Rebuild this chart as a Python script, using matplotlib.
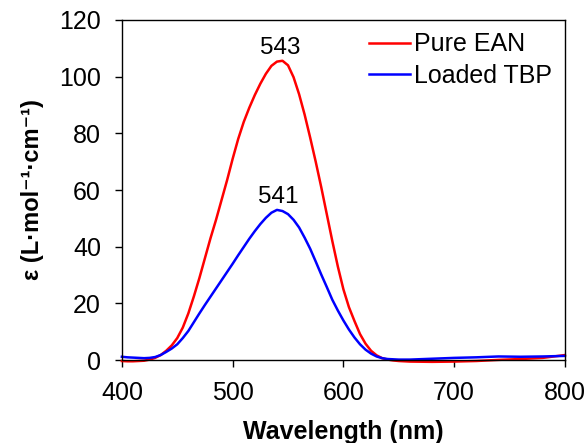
import matplotlib
matplotlib.use('Agg')
import matplotlib.pyplot as plt

plt.rcParams['font.family'] = ['Liberation Sans', 'DejaVu Sans']

# wavelength grid (nm)
wavelength = [400, 405, 410, 415, 420, 425, 430, 435, 440, 445, 450, 455, 460,
              465, 470, 475, 480, 485, 490, 495, 500, 505, 510, 515, 520, 525,
              530, 535, 540, 545, 550, 555, 560, 565, 570, 575, 580, 585, 590,
              595, 600, 605, 610, 615, 620, 625, 630, 635, 640, 645, 650,
              660, 680, 700, 720, 740, 760, 780, 800]
pure_ean = [-0.3, -0.4, -0.4, -0.3, -0.2, 0.2, 0.8, 1.8, 3.3, 5.2, 7.8, 11.5, 16.5,
            22.5, 29, 36, 43, 49.5, 56.5, 63.5, 71, 78, 84, 89, 93.5, 97.5,
            101, 103.8, 105.3, 105.6, 104, 99.8, 93.8, 86.6, 78.5, 70, 61, 51.5, 42,
            33, 25, 18.7, 13.8, 9.2, 5.8, 3.3, 1.7, 0.7, 0.2, -0.1, -0.3,
            -0.5, -0.6, -0.5, -0.3, 0.1, 0.4, 0.8, 1.8]
loaded_tbp = [1.2, 1.0, 0.9, 0.8, 0.7, 0.8, 1.1, 1.8, 2.9, 4.1, 5.6, 7.8, 10.3,
              13.4, 16.5, 19.5, 22.4, 25.3, 28.2, 31.1, 34.0, 37.0, 39.9, 42.8, 45.5, 48.0,
              50.2, 52.0, 53, 52.6, 51.5, 49.5, 46.8, 43.2, 39.3, 34.8, 30.2, 25.8, 21.3,
              17.5, 14.0, 10.8, 8.0, 5.6, 3.7, 2.3, 1.3, 0.7, 0.4, 0.3, 0.2,
              0.2, 0.5, 0.8, 1.0, 1.3, 1.2, 1.3, 1.5]
peaks = [(543, 105.6, '543'), (541, 53, '541')]

fig = plt.figure(figsize=(5.86, 4.43), dpi=100)
ax = fig.add_axes([0.208, 0.187, 0.756, 0.768])

ax.plot(wavelength, pure_ean, color='#ff0000', lw=1.8, label='Pure EAN', clip_on=False)
ax.plot(wavelength, loaded_tbp, color='#0000ff', lw=1.8, label='Loaded TBP', clip_on=False)

for x, y, txt in peaks:
    ax.text(x, y + 2.5, txt, ha='center', va='baseline', fontsize=17.5)

ax.set_xlim(400, 800)
ax.set_ylim(0, 120)
ax.set_xticks([400, 500, 600, 700, 800])
ax.set_yticks(range(0, 121, 20))
ax.tick_params(direction='out', length=5, width=1, labelsize=18, pad=10,
               top=False, right=False)
for s in ax.spines.values():
    s.set_linewidth(1)

ax.set_xlabel('Wavelength (nm)', fontsize=18, fontweight='bold', labelpad=11)
ax.set_ylabel('ε (L·mol⁻¹·cm⁻¹)', fontsize=17, fontweight='bold', labelpad=11)

ax.legend(loc='upper right', frameon=False, fontsize=18, handlelength=1.67,
          handletextpad=0.16, labelspacing=0.3, borderaxespad=0.1)

fig.savefig('out.png', dpi=100)
